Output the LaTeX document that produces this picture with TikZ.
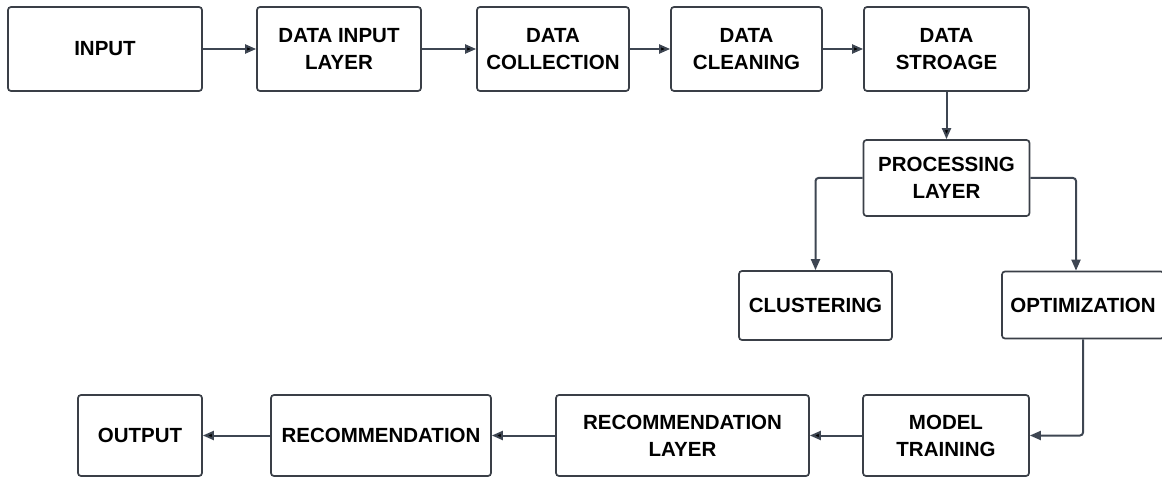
\documentclass[tikz,border=0pt]{standalone}
\usepackage{fontspec}
\setmainfont{Liberation Sans}
\usetikzlibrary{positioning,calc,arrows.meta}
\definecolor{boxline}{HTML}{3A3F47}
\definecolor{wire}{HTML}{3E4652}

\begin{document}
\begin{tikzpicture}[x=1pt,y=-1pt,auto]
                    \tikzstyle{every node}=[fill=white,rectangle,draw=boxline,line width=1.7,rounded corners=3,inner sep=0,align=center,font=\fontsize{20.5}{27}\selectfont\bfseries]
                    \tikzstyle{wired}=[draw=wire,line width=2,-{Triangle[length=11pt,width=9pt]}]
                    \useasboundingbox (0,0) rectangle (1162,478);
                    {
                        % top row
                        \node[minimum width=194,minimum height=84] (input) at (105,49) {INPUT};
                        \node[minimum width=164,minimum height=84] (datain) at (339,49) {DATA INPUT\\LAYER};
                        \node[minimum width=152,minimum height=84] (collect) at (553,49) {DATA\\COLLECTION};
                        \node[minimum width=151,minimum height=84] (clean) at (746.5,49) {DATA\\CLEANING};
                        \node[minimum width=165,minimum height=84] (store) at (946.5,49) {DATA\\STROAGE};

                        % middle
                        \node[minimum width=166,minimum height=76] (proc) at (946.5,178) {PROCESSING\\LAYER};
                        \node[minimum width=153,minimum height=69] (clust) at (815.5,305.5) {CLUSTERING};
                        \node[minimum width=162,minimum height=67] (optim) at (1083,305) {OPTIMIZATION};

                        % bottom row
                        \node[minimum width=166,minimum height=81] (train) at (946,435.5) {MODEL\\TRAINING};
                        \node[minimum width=253,minimum height=81] (reclayer) at (682.5,435.5) {RECOMMENDATION\\LAYER};
                        \node[minimum width=220,minimum height=81] (recom) at (381,435.5) {RECOMMENDATION};
                        \node[minimum width=124,minimum height=81] (output) at (140,435.5) {OUTPUT};

                        \path[wired]
                            (input) edge (datain)
                            (datain) edge (collect)
                            (collect) edge (clean)
                            (clean) edge (store)
                            (store) edge (proc)
                            (train) edge (reclayer)
                            (reclayer) edge (recom)
                            (recom) edge (output);

                        \draw[wired,rounded corners=3] (proc.west) -| (clust.north);
                        \draw[wired,rounded corners=3] (proc.east) -| ([xshift=-7]optim.north);
                        \draw[wired,rounded corners=3] (optim.south) |- (train.east);
                    }
                \end{tikzpicture}
\end{document}
